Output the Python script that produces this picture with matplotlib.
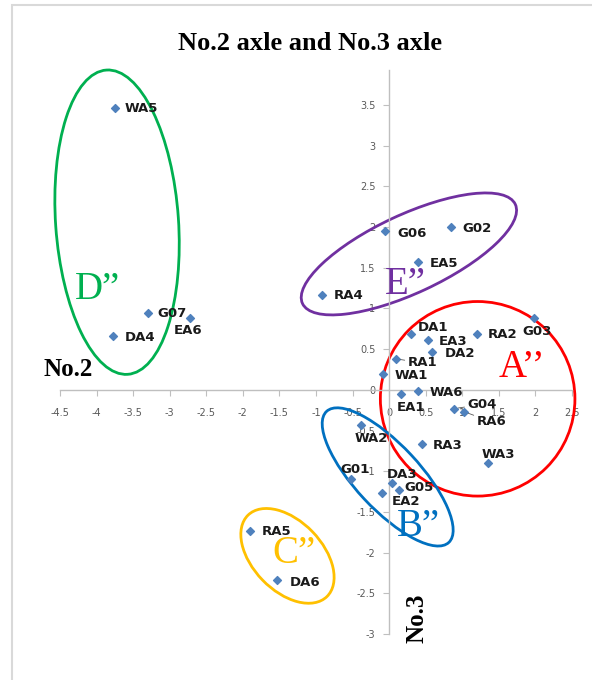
import matplotlib
matplotlib.use("Agg")
import matplotlib.pyplot as plt
from matplotlib.patches import Ellipse, Rectangle
from matplotlib.transforms import Affine2D
import numpy as np

# sample names and their coordinates on No.2 (x) / No.3 (y)
names = ["WA5", "G07", "EA6", "DA4", "RA4", "G06", "G02", "EA5", "DA1", "EA3",
         "DA2", "RA2", "G03", "RA1", "WA1", "WA6", "EA1", "G04", "RA6", "RA3",
         "WA3", "WA2", "G01", "DA3", "G05", "EA2", "RA5", "DA6"]
no2 = [-3.75, -3.30, -2.72, -3.78, -0.92, -0.05, 0.85, 0.40, 0.30, 0.53,
       0.59, 1.20, 1.98, 0.10, -0.08, 0.40, 0.16, 0.89, 1.03, 0.45,
       1.35, -0.38, -0.52, 0.04, 0.13, -0.10, -1.90, -1.53]
no3 = [3.46, 0.94, 0.88, 0.66, 1.17, 1.95, 2.00, 1.57, 0.69, 0.61,
       0.47, 0.69, 0.88, 0.38, 0.20, -0.02, -0.05, -0.23, -0.27, -0.67,
       -0.90, -0.43, -1.09, -1.14, -1.23, -1.27, -1.73, -2.34]

# label placement (pixel offsets from the point)
label_pos = {
    "WA5": (10, 0, "left"), "G07": (10, 0, "left"), "EA6": (-2, -12, "center"),
    "DA4": (12, -1, "left"), "RA4": (12, -1, "left"), "G06": (12, -2, "left"),
    "G02": (11, -1, "left"), "EA5": (11, -1, "left"), "DA1": (7, 6, "left"),
    "EA3": (11, -1, "left"), "DA2": (12, -2, "left"), "RA2": (11, -1, "left"),
    "G03": (3, -13, "center"), "RA1": (11, -4, "left"), "WA1": (11, -2, "left"),
    "WA6": (11, -1, "left"), "EA1": (10, -14, "center"), "G04": (13, 4, "left"),
    "RA6": (12, -10, "left"), "RA3": (11, -1, "left"), "WA3": (10, 9, "center"),
    "WA2": (10, -14, "center"), "G01": (4, 9, "center"), "DA3": (10, 8, "center"),
    "G05": (6, 2, "left"), "EA2": (10, -8, "left"), "RA5": (12, -1, "left"),
    "DA6": (13, -2, "left"),
}
leaders = ["RA1", "G04", "RA6"]

# cluster outlines: name, text, colour, centre, width/height (x units), angle, text pos
groups = [
    ("D", "D\u201d", "#00B050", (-3.72, 2.06), 4.17, 1.68, 94, (-3.99, 1.23)),
    ("E", "E\u201d", "#7030A0", (0.27, 1.67), 3.21, 1.07, 25, (0.22, 1.30)),
    ("A", "A\u2019\u2019", "#FF0000", (1.21, -0.11), 2.66, 2.66, 0, (1.82, 0.27)),
    ("B", "B\u201d", "#0070C0", (-0.02, -1.07), 2.45, 0.88, -47, (0.40, -1.68)),
    ("C", "C\u201d", "#FFC000", (-1.39, -2.04), 1.55, 0.95, -46, (-1.30, -2.01)),
]

xmin, xmax = -4.5, 2.5
ymin, ymax = -3.0, 3.93

fig = plt.figure(figsize=(5.92, 6.8), dpi=100)
ax = fig.add_axes([60 / 592, 46 / 680, 512 / 592, 564 / 680])
ax.set_xlim(xmin, xmax)
ax.set_ylim(ymin, ymax)

# chart border (light gray frame, left and top visible)
fig.add_artist(Rectangle((12 / 592, -0.1), 1.0, 1.1 - 5 / 680,
                         transform=fig.transFigure, fill=False,
                         edgecolor="#D9D9D9", lw=1.5))

# axes crossing at zero, Excel style
for side in ["top", "right"]:
    ax.spines[side].set_visible(False)
ax.spines["left"].set_position(("data", 0))
ax.spines["bottom"].set_position(("data", 0))
for side in ["left", "bottom"]:
    ax.spines[side].set_color("#BFBFBF")
    ax.spines[side].set_linewidth(1.0)
ax.set_xticks(np.arange(-4.5, 2.51, 0.5))
ax.set_yticks(np.arange(-3.0, 3.51, 0.5))
ax.xaxis.set_major_formatter(matplotlib.ticker.FormatStrFormatter("%g"))
ax.yaxis.set_major_formatter(matplotlib.ticker.FormatStrFormatter("%g"))
ax.tick_params(axis="both", direction="out", length=4, width=0.8,
               color="#BFBFBF", labelsize=7, labelcolor="#595959")
ax.tick_params(axis="x", pad=9)
ax.tick_params(axis="y", pad=6)

# ellipse sizes given in x units, y squeezed to the same pixel scale
ppx = ax.bbox.width / (xmax - xmin)
ppy = ax.bbox.height / (ymax - ymin)
for key, txt, col, (cx, cy), w, h, ang, (tx, ty) in groups:
    tr = Affine2D().rotate_deg(ang).scale(1, ppx / ppy).translate(cx, cy) + ax.transData
    ax.add_patch(Ellipse((0, 0), w, h, transform=tr, fill=False, clip_on=False,
                         edgecolor=col, lw=2.0, zorder=2))
    ax.text(tx, ty, txt, color=col, fontsize=28, family="Liberation Serif",
            ha="center", va="center", zorder=3)

ax.scatter(no2, no3, marker="D", s=16, color="#4F81BD", zorder=4)

for n, x, y in zip(names, no2, no3):
    dx, dy, ha = label_pos[n]
    arrow = None
    if n in leaders:
        arrow = dict(arrowstyle="-", color="#595959", lw=0.6, shrinkA=0, shrinkB=3)
    ax.annotate(n, (x, y), xytext=(dx, dy), textcoords="offset pixels",
                ha=ha, va="center", fontsize=9.5, fontweight="bold",
                color="#1a1a1a", arrowprops=arrow, zorder=5)

fig.text(310 / 592, 1 - 43 / 680, "No.2 axle and No.3 axle", ha="center",
         va="center", fontsize=19, fontweight="bold", family="Liberation Serif")
fig.text(68 / 592, 1 - 369 / 680, "No.2", ha="center", va="center",
         fontsize=18, fontweight="bold", family="Liberation Serif")
fig.text(417 / 592, 1 - 618 / 680, "No.3", ha="center", va="center",
         rotation=90, fontsize=18, fontweight="bold", family="Liberation Serif")

fig.savefig("out.png", dpi=100, facecolor="white")
